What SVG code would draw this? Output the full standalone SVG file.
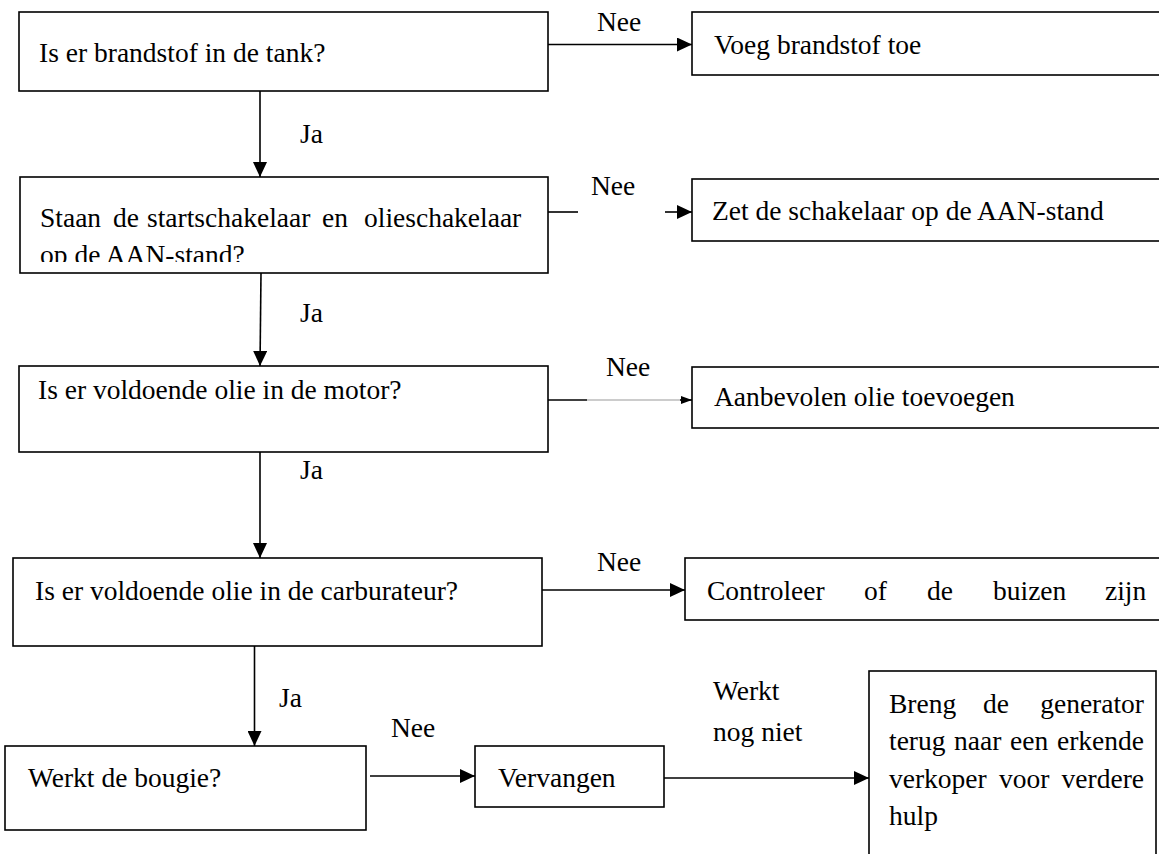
<svg xmlns="http://www.w3.org/2000/svg" width="1159" height="854" viewBox="0 0 1159 854">
<style>
.box{fill:#fff;stroke:#000;stroke-width:1.6}
.t{font-size:27.5px;fill:#000}
.ln{stroke:#000;stroke-width:1.6;fill:none}
.thin{stroke:#999;stroke-width:1;fill:none}
</style>
<defs>
<marker id="ah" markerUnits="userSpaceOnUse" markerWidth="16" markerHeight="14" refX="15" refY="7" orient="auto">
<path d="M0,0 L15,7 L0,14 Z" fill="#000"/>
</marker>
<marker id="ahs" markerUnits="userSpaceOnUse" markerWidth="12" markerHeight="10" refX="11" refY="5" orient="auto">
<path d="M0,1 L11,5 L0,9 Z" fill="#000"/>
</marker>
<clipPath id="c2"><rect x="20" y="177" width="528" height="85"/></clipPath>
</defs>
<rect width="1159" height="854" fill="#fff"/>
<g font-family="Liberation Serif, Times New Roman, Times, Nimbus Roman, FreeSerif, DejaVu Serif, Noto Serif, serif">
<g id="connectors">
<line class="ln" x1="548" y1="44.5" x2="692" y2="44.5" marker-end="url(#ah)"/>
<line class="ln" x1="260" y1="91" x2="260" y2="177" marker-end="url(#ah)"/>
<line class="ln" x1="548" y1="212" x2="578" y2="212"/>
<line class="ln" x1="665" y1="212" x2="692" y2="212" marker-end="url(#ah)"/>
<line class="ln" x1="261" y1="273" x2="260" y2="366" marker-end="url(#ah)"/>
<line class="ln" x1="548" y1="400" x2="587" y2="400"/>
<line class="thin" x1="587" y1="400" x2="682" y2="400"/>
<line class="ln" x1="680" y1="400" x2="692" y2="400" marker-end="url(#ahs)"/>
<line class="ln" x1="260" y1="452" x2="260" y2="558" marker-end="url(#ah)"/>
<line class="ln" x1="542" y1="590" x2="685" y2="590" marker-end="url(#ah)"/>
<line class="ln" x1="254.5" y1="646" x2="254.5" y2="746" marker-end="url(#ah)"/>
<line class="ln" x1="370" y1="776" x2="475" y2="776" marker-end="url(#ah)"/>
<line class="ln" x1="662" y1="778" x2="869" y2="778" marker-end="url(#ah)"/>
<text class="t" x="597" y="31">Nee</text>
<text class="t" x="591" y="195">Nee</text>
<text class="t" x="606" y="376">Nee</text>
<text class="t" x="597" y="571">Nee</text>
<text class="t" x="391" y="737">Nee</text>
<text class="t" x="300" y="143">Ja</text>
<text class="t" x="300" y="322">Ja</text>
<text class="t" x="300" y="479">Ja</text>
<text class="t" x="279" y="707">Ja</text>
<text class="t" x="713" y="700">Werkt</text>
<text class="t" x="713" y="741">nog niet</text>
</g>

<g id="n1">
<rect class="box" x="19" y="12" width="529" height="79"/>
<text class="t" x="39" y="62">Is er brandstof in de tank?</text>
</g>
<g id="n1no">
<rect class="box" x="692" y="12" width="480" height="63"/>
<text class="t" x="714" y="54">Voeg brandstof toe</text>
</g>
<g id="n2">
<rect class="box" x="20" y="177" width="528" height="96"/>
<g clip-path="url(#c2)">
<text class="t" y="227"><tspan x="40">Staan</tspan><tspan x="113">de</tspan><tspan x="147">startschakelaar</tspan><tspan x="322">en</tspan><tspan x="364">olieschakelaar</tspan></text>
<text class="t" x="40" y="264">op de AAN-stand?</text>
</g>
</g>
<g id="n2no">
<rect class="box" x="692" y="179" width="480" height="62"/>
<text class="t" x="712" y="220">Zet de schakelaar op de AAN-stand</text>
</g>
<g id="n3">
<rect class="box" x="19" y="366" width="529" height="86"/>
<text class="t" x="38" y="399">Is er voldoende olie in de motor?</text>
</g>
<g id="n3no">
<rect class="box" x="692" y="367" width="480" height="61"/>
<text class="t" x="714" y="406">Aanbevolen olie toevoegen</text>
</g>
<g id="n4">
<rect class="box" x="13" y="558" width="529" height="88"/>
<text class="t" x="35" y="600">Is er voldoende olie in de carburateur?</text>
</g>
<g id="n4no">
<rect class="box" x="685" y="558" width="490" height="62"/>
<text class="t" y="600"><tspan x="707">Controleer</tspan><tspan x="864">of</tspan><tspan x="927">de</tspan><tspan x="993">buizen</tspan><tspan x="1105">zijn</tspan></text>
</g>
<g id="n5">
<rect class="box" x="5" y="746" width="361" height="84"/>
<text class="t" x="28" y="787">Werkt de bougie?</text>
</g>
<g id="n5no">
<rect class="box" x="475" y="746" width="189" height="61"/>
<text class="t" x="498" y="787">Vervangen</text>
</g>
<g id="n6">
<rect class="box" x="869" y="671" width="287" height="200"/>
<text class="t" y="713"><tspan x="889">Breng</tspan><tspan x="983">de</tspan><tspan x="1144" text-anchor="end">generator</tspan></text>
<text class="t" y="750"><tspan x="889">terug</tspan><tspan x="954">naar</tspan><tspan x="1010">een</tspan><tspan x="1144" text-anchor="end">erkende</tspan></text>
<text class="t" y="788"><tspan x="889">verkoper</tspan><tspan x="999">voor</tspan><tspan x="1144" text-anchor="end">verdere</tspan></text>
<text class="t" x="889" y="825">hulp</text>
</g>
</g>
</svg>
